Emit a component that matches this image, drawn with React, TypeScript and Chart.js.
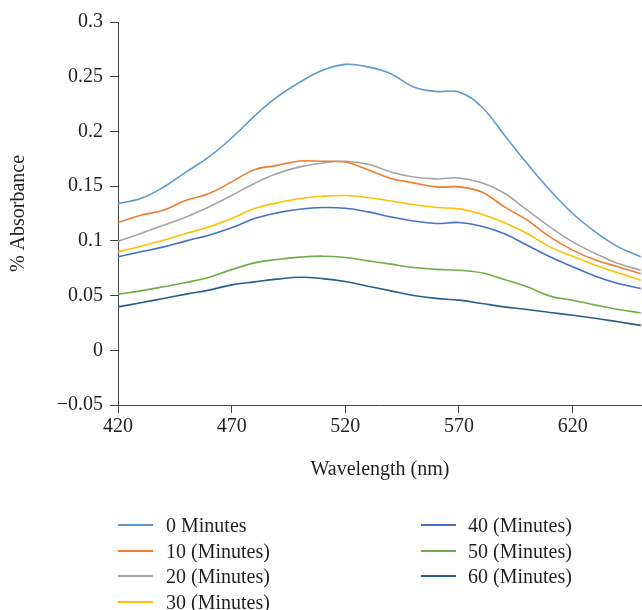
import React, { useEffect, useRef } from 'react';
import { Chart, registerables } from 'chart.js';

Chart.register(...registerables);

const wavelengths = [420, 430, 440, 450, 460, 470, 480, 490, 500, 510, 520, 530, 540, 550, 560, 570, 580, 590, 600, 610, 620, 630, 640, 650];

const seriesNames = ['0 Minutes', '10 (Minutes)', '20 (Minutes)', '30 (Minutes)', '40 (Minutes)', '50 (Minutes)', '60 (Minutes)'];

const min0 = [0.134, 0.1387, 0.149, 0.163, 0.1767, 0.194, 0.214, 0.2315, 0.245, 0.2558, 0.2613, 0.259, 0.2528, 0.2406, 0.2365, 0.236, 0.2223, 0.1965, 0.1706, 0.1463, 0.125, 0.1082, 0.0945, 0.0854];
const min10 = [0.1168, 0.1234, 0.128, 0.137, 0.1432, 0.1539, 0.165, 0.169, 0.173, 0.1727, 0.172, 0.165, 0.157, 0.153, 0.1493, 0.1493, 0.1447, 0.131, 0.1189, 0.1036, 0.0915, 0.0824, 0.0763, 0.07];
const min20 = [0.0995, 0.1067, 0.1143, 0.1219, 0.131, 0.1415, 0.1525, 0.1615, 0.1676, 0.1712, 0.1727, 0.17, 0.163, 0.1584, 0.1566, 0.1575, 0.153, 0.1435, 0.128, 0.1128, 0.0991, 0.0885, 0.0793, 0.0732];
const min30 = [0.09, 0.0951, 0.1006, 0.1067, 0.1128, 0.1204, 0.1295, 0.1347, 0.1387, 0.1408, 0.1414, 0.1396, 0.1365, 0.1332, 0.1305, 0.1292, 0.1244, 0.1165, 0.1067, 0.0945, 0.086, 0.0778, 0.0708, 0.0641];
const min40 = [0.0854, 0.09, 0.0945, 0.1, 0.1052, 0.1119, 0.1204, 0.1256, 0.1289, 0.1305, 0.1298, 0.1265, 0.1219, 0.1182, 0.1159, 0.1168, 0.1134, 0.1065, 0.096, 0.0854, 0.0763, 0.0677, 0.0611, 0.0565];
const min50 = [0.0513, 0.0543, 0.058, 0.062, 0.0666, 0.0737, 0.0799, 0.083, 0.0851, 0.086, 0.0848, 0.0817, 0.0787, 0.0757, 0.0739, 0.0732, 0.0708, 0.0647, 0.058, 0.0495, 0.0458, 0.0413, 0.0373, 0.0343];
const min60 = [0.0397, 0.0434, 0.0474, 0.0513, 0.055, 0.0598, 0.0625, 0.065, 0.0667, 0.0655, 0.0628, 0.0586, 0.0543, 0.0501, 0.0474, 0.0458, 0.0428, 0.0397, 0.0373, 0.0345, 0.032, 0.0293, 0.026, 0.0228];

const seriesValues = [min0, min10, min20, min30, min40, min50, min60];
const seriesColors = ['#5B9BD5', '#ED7D31', '#A5A5A5', '#FFC000', '#4472C4', '#70AD47', '#255E91'];

const xTicks = [420, 470, 520, 570, 620];
const yTicks = [-0.05, 0, 0.05, 0.1, 0.15, 0.2, 0.25, 0.3];
const yTickLabels = ['\u22120.05', '0', '0.05', '0.1', '0.15', '0.2', '0.25', '0.3'];

const FONT = '"Liberation Serif", "Times New Roman", serif';
const TEXT = '#231f20';
const AXIS = '#404040';

// legend layout: first 4 in column 1, rest in column 2
const legendColumns = [
  { lineLeft: 118, textLeft: 166 },
  { lineLeft: 421, textLeft: 468 },
];
const legendRowTops = [525, 551, 576, 602];

export default function App() {
  const canvasRef = useRef<HTMLCanvasElement | null>(null);

  useEffect(() => {
    const canvas = canvasRef.current;
    if (!canvas) return;
    const chart = new Chart(canvas, {
      type: 'line',
      data: {
        datasets: seriesNames.map((name, i) => ({
          label: name,
          data: wavelengths.map((w, j) => ({ x: w, y: seriesValues[i][j] })),
          borderColor: seriesColors[i],
          backgroundColor: seriesColors[i],
          borderWidth: 1.6,
          pointRadius: 0,
          tension: 0.4,
          fill: false,
        })),
      },
      options: {
        animation: false,
        responsive: false,
        devicePixelRatio: 1,
        layout: { padding: { left: 0, top: 22, right: 0, bottom: 128 } },
        plugins: { legend: { display: false }, tooltip: { enabled: false } },
        scales: {
          x: {
            type: 'linear',
            min: 420,
            max: 650.5,
            afterBuildTicks: (s: any) => {
              s.ticks = xTicks.map((v) => ({ value: v }));
            },
            afterFit: (s: any) => {
              s.height = 77;
            },
            grid: { drawOnChartArea: false, drawTicks: true, tickLength: 8, color: AXIS, tickColor: AXIS, lineWidth: 1 },
            border: { color: AXIS, width: 1 },
            ticks: { font: { family: FONT, size: 20 }, color: TEXT, padding: 2, maxRotation: 0, autoSkip: false },
            title: { display: true, text: 'Wavelength (nm)', font: { family: FONT, size: 20 }, color: TEXT, padding: { top: 0, bottom: 0 } },
          },
          y: {
            min: -0.05,
            max: 0.3,
            afterBuildTicks: (s: any) => {
              s.ticks = yTicks.map((v) => ({ value: v }));
            },
            afterFit: (s: any) => {
              s.width = 118;
            },
            grid: { drawOnChartArea: false, drawTicks: true, tickLength: 8, color: AXIS, tickColor: AXIS, lineWidth: 1 },
            border: { color: AXIS, width: 1 },
            ticks: {
              font: { family: FONT, size: 20 },
              color: TEXT,
              padding: 7,
              callback: (_v: any, i: number) => yTickLabels[i],
            },
            title: { display: true, text: '% Absorbance', font: { family: FONT, size: 20 }, color: TEXT, padding: { top: 7, bottom: 0 } },
          },
        },
      },
    });
    return () => chart.destroy();
  }, []);

  return (
    <div style={{ position: 'fixed', left: 0, top: 0, width: 642, height: 610, background: '#fff', overflow: 'hidden' }}>
      <canvas ref={canvasRef} width={642} height={610} style={{ display: 'block', width: 642, height: 610 }} />
      {seriesNames.map((name, i) => {
        const col = legendColumns[i < 4 ? 0 : 1];
        const row = i < 4 ? i : i - 4;
        const cy = legendRowTops[row];
        return (
          <div key={name}>
            <div style={{ position: 'absolute', left: col.lineLeft, top: cy - 1, width: 35, height: 0, borderTop: `2px solid ${seriesColors[i]}` }} />
            <div style={{ position: 'absolute', left: col.textLeft, top: cy - 13, height: 26, lineHeight: '26px', fontFamily: FONT, fontSize: 20, color: TEXT, whiteSpace: 'nowrap' }}>{name}</div>
          </div>
        );
      })}
    </div>
  );
}
